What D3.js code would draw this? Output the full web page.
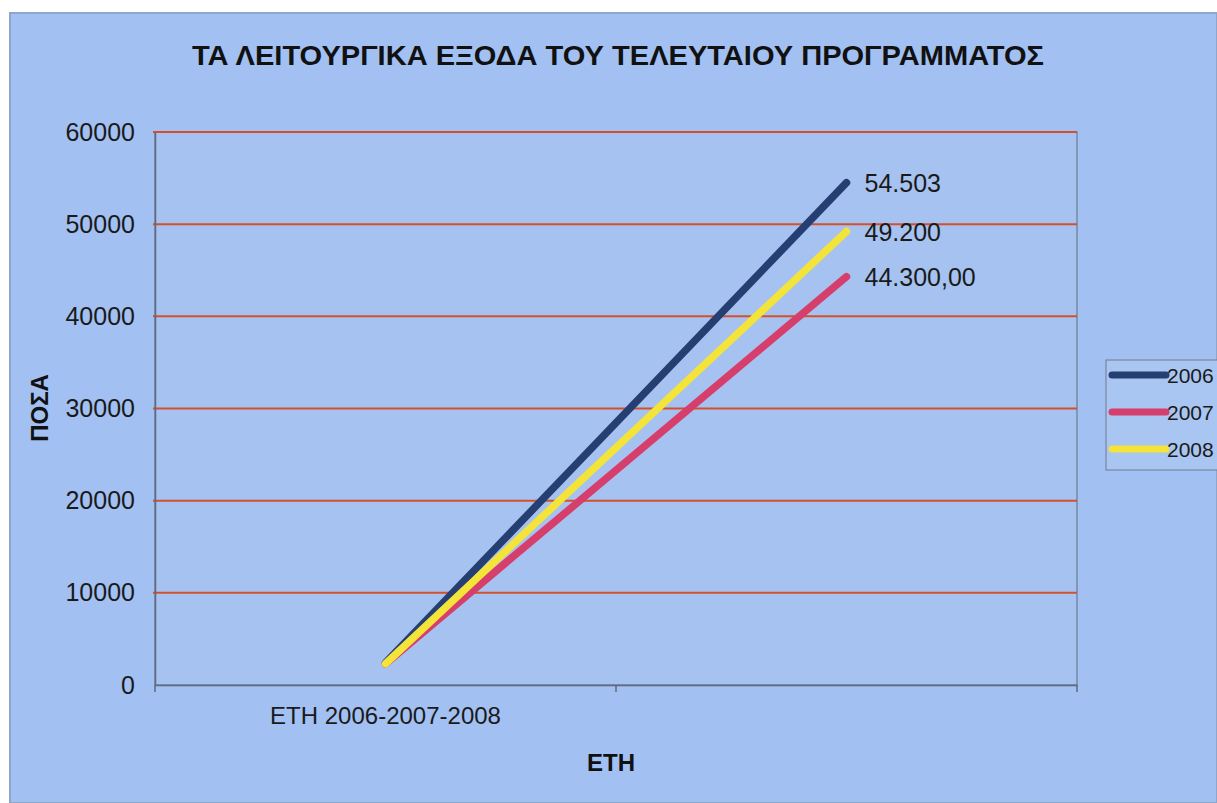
<!DOCTYPE html>
<html><head><meta charset="utf-8">
<script src="https://cdn.jsdelivr.net/npm/d3@7"></script>
<style>
html,body{margin:0;padding:0;background:#ffffff;}
svg{display:block;}
</style></head>
<body>
<svg id="chart" width="1217" height="803"></svg>
<script>
const title = "ΤΑ ΛΕΙΤΟΥΡΓΙΚΑ ΕΞΟΔΑ ΤΟΥ ΤΕΛΕΥΤΑΙΟΥ ΠΡΟΓΡΑΜΜΑΤΟΣ";
const categories = ["ΕΤΗ 2006-2007-2008", ""];
const seriesNames = ["2006", "2007", "2008"];
const values2006 = [2400, 54503];
const values2007 = [2300, 44300];
const values2008 = [2300, 49200];
const endLabels = ["54.503", "44.300,00", "49.200"];
const yTicks = [0, 10000, 20000, 30000, 40000, 50000, 60000];
const colors = ["#263f72", "#d63e6c", "#f4e43a"];

const svg = d3.select("#chart");
const W = 1217, H = 803;
const plot = {left: 155, right: 1077, top: 132, bottom: 685};
const FONT = "Liberation Sans, Arial, sans-serif";

// chart area background
svg.append("rect").attr("x", 10).attr("y", 13).attr("width", W - 10).attr("height", H - 13)
  .attr("fill", "#a2c0f2").attr("stroke", "#8ea6cc").attr("stroke-width", 2);

// plot area
svg.append("rect").attr("x", plot.left).attr("y", plot.top)
  .attr("width", plot.right - plot.left).attr("height", plot.bottom - plot.top)
  .attr("fill", "#a6c2f0").attr("stroke", "#5f6a7c").attr("stroke-width", 1);

const x = d3.scaleBand().domain(d3.range(categories.length)).range([plot.left, plot.right]);
const y = d3.scaleLinear().domain([0, 60000]).range([plot.bottom, plot.top]);

// gridlines
svg.append("g").selectAll("line").data(yTicks.filter(d => d > 0)).join("line")
  .attr("x1", plot.left - 2).attr("x2", plot.right)
  .attr("y1", d => y(d)).attr("y2", d => y(d))
  .attr("stroke", "#d4502c").attr("stroke-width", 2);

// y axis
const yAxis = svg.append("g").attr("transform", `translate(${plot.left},0)`)
  .call(d3.axisLeft(y).tickValues(yTicks).tickSize(0).tickPadding(20).tickFormat(d3.format("d")));
yAxis.attr("font-size", null).attr("font-family", null);
yAxis.select(".domain").attr("stroke", "#5f6a7c").attr("stroke-width", 1.5);
yAxis.selectAll("text").attr("font-family", FONT)
  .attr("font-size", 25).attr("fill", "#1a1a1a");

// x axis
const xAxis = svg.append("g").attr("transform", `translate(0,${plot.bottom})`)
  .call(d3.axisBottom(x).tickFormat(i => categories[i]).tickSize(0).tickPadding(22));
xAxis.attr("font-size", null).attr("font-family", null);
xAxis.select(".domain").attr("stroke", "#5f6a7c").attr("stroke-width", 1.5);
xAxis.selectAll("text").attr("font-family", FONT)
  .attr("font-size", 24).attr("fill", "#1a1a1a");
// category boundary ticks
svg.append("g").selectAll("line").data(d3.range(categories.length + 1)).join("line")
  .attr("x1", i => plot.left + i * x.step()).attr("x2", i => plot.left + i * x.step())
  .attr("y1", plot.bottom).attr("y2", plot.bottom + 7)
  .attr("stroke", "#5f6a7c").attr("stroke-width", 1.5);

// lines
const all = [values2006, values2007, values2008];
const line = d3.line().x((d, i) => x(i) + x.bandwidth() / 2).y(d => y(d));
[0, 1, 2].forEach(s => {
  svg.append("path").datum(all[s]).attr("d", line)
    .attr("fill", "none").attr("stroke", colors[s]).attr("stroke-width", 7.5)
    .attr("stroke-linecap", "round");
});

// end labels
all.forEach((vals, s) => {
  const last = vals.length - 1;
  svg.append("text").attr("x", x(last) + x.bandwidth() / 2 + 18).attr("y", y(vals[last]))
    .attr("dy", "0.36em").attr("font-family", FONT)
    .attr("font-size", 25).attr("fill", "#1a1a1a").text(endLabels[s]);
});

// title
svg.append("text").attr("x", 618).attr("y", 65).attr("text-anchor", "middle")
  .attr("font-family", "Liberation Sans Narrow, Arial Narrow, Liberation Sans, sans-serif")
  .attr("font-weight", "bold").attr("font-size", 28).attr("fill", "#111")
  .attr("textLength", 852).attr("lengthAdjust", "spacingAndGlyphs").text(title);

// axis titles
svg.append("text").attr("transform", "translate(48,408) rotate(-90)").attr("text-anchor", "middle")
  .attr("font-family", FONT).attr("font-weight", "bold")
  .attr("font-size", 24).attr("fill", "#111").text("ΠΟΣΑ");
svg.append("text").attr("x", 611).attr("y", 771).attr("text-anchor", "middle")
  .attr("font-family", FONT).attr("font-weight", "bold")
  .attr("font-size", 24).attr("fill", "#111").text("ΕΤΗ");

// legend
const lg = svg.append("g");
lg.append("rect").attr("x", 1106).attr("y", 360).attr("width", 130).attr("height", 110)
  .attr("fill", "#a9c5f2").attr("stroke", "#6f7a8c").attr("stroke-width", 1);
seriesNames.forEach((n, i) => {
  const ly = 375 + i * 37;
  lg.append("line").attr("x1", 1112).attr("x2", 1166).attr("y1", ly).attr("y2", ly)
    .attr("stroke", colors[i]).attr("stroke-width", 7).attr("stroke-linecap", "round");
  lg.append("text").attr("x", 1167).attr("y", ly).attr("dy", "0.36em")
    .attr("font-family", FONT).attr("font-size", 21)
    .attr("fill", "#1a1a1a").text(n);
});
</script>
</body></html>
